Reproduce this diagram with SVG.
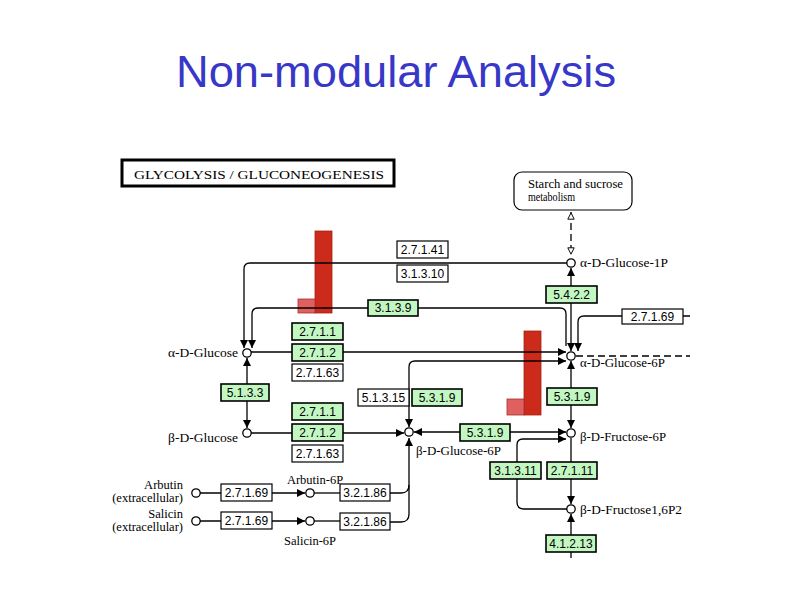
<svg xmlns="http://www.w3.org/2000/svg" width="794" height="595" viewBox="0 0 794 595">
<style>
.title{font-family:"Liberation Sans",Arial,sans-serif;font-size:44px;fill:#3838c8}
.bx{font-family:"Liberation Sans",Arial,sans-serif;font-size:12px;fill:#000;text-anchor:middle}
.lb{font-family:"Liberation Serif","Times New Roman",serif;font-size:12.5px;fill:#000}
.g{fill:#c2f7c2;stroke:#000;stroke-width:1.6}
.w{fill:#fff;stroke:#000;stroke-width:1.2}
.c{fill:#fff;stroke:#000;stroke-width:1.3}
.ln{fill:none;stroke:#000;stroke-width:1.3}
.dash{fill:none;stroke:#000;stroke-width:1.3;stroke-dasharray:7,4}
</style>
<defs>
<marker id="a" viewBox="0 0 10 10" refX="10" refY="5" markerWidth="8" markerHeight="8" markerUnits="userSpaceOnUse" orient="auto-start-reverse"><path d="M0,0 L10,5 L0,10 z" fill="#000"/></marker>
<marker id="h" viewBox="0 0 10 10" refX="10" refY="5" markerWidth="8" markerHeight="8" markerUnits="userSpaceOnUse" orient="auto-start-reverse"><path d="M1,1 L9,5 L1,9 z" fill="#fff" stroke="#000" stroke-width="1.2"/></marker>
</defs>
<rect width="794" height="595" fill="#fff"/>
<text class="title" x="176" y="87" textLength="440" lengthAdjust="spacingAndGlyphs">Non-modular Analysis</text>

<g id="header">
<rect x="122" y="160" width="272" height="26" fill="#fff" stroke="#000" stroke-width="3"/>
<text class="lb" x="134" y="179" font-size="14.5" textLength="250" lengthAdjust="spacingAndGlyphs">GLYCOLYSIS / GLUCONEOGENESIS</text>
</g>
<g id="starch">
<rect x="514" y="172" width="118" height="38" rx="8" fill="#fff" stroke="#000" stroke-width="1.2"/>
<text class="lb" x="528" y="188" font-size="10" textLength="95" lengthAdjust="spacingAndGlyphs">Starch and sucrose</text>
<text class="lb" x="528" y="201" font-size="10" textLength="47" lengthAdjust="spacingAndGlyphs">metabolism</text>
</g>

<g id="bars">
<rect x="315" y="231" width="17" height="82" fill="#cc2a1a" stroke="#a82016" stroke-width="0.8"/>
<rect x="298" y="299" width="17" height="14" fill="#e06060" stroke="#a83030" stroke-width="0.8"/>
<rect x="524" y="331" width="17" height="84" fill="#cc2a1a" stroke="#a82016" stroke-width="0.8"/>
<rect x="507" y="399" width="17" height="16" fill="#e06060" stroke="#a83030" stroke-width="0.8"/>
</g>

<g id="connectors">
<path class="dash" d="M571,212 V255" marker-start="url(#h)" marker-end="url(#h)"/>
<path class="ln" d="M567,263 H250 Q244,263 244,269 V348" marker-end="url(#a)"/>
<path class="ln" d="M566,346 V314 Q566,308 560,308 H258 Q252,308 252,314 V348" marker-end="url(#a)"/>
<path class="ln" d="M571,268 V351" marker-start="url(#a)" marker-end="url(#a)"/>
<path class="ln" d="M690,316 H584 Q578,316 578,322 V351" marker-end="url(#a)"/>
<path class="ln" d="M251,352 H566" marker-end="url(#a)"/>
<path class="ln" d="M409,427 V367 Q409,361 415,361 H566" marker-start="url(#a)" marker-end="url(#a)"/>
<path class="dash" d="M576,356 H690"/>
<path class="ln" d="M247,358 V428" marker-start="url(#a)" marker-end="url(#a)"/>
<path class="ln" d="M251,433 H404" marker-end="url(#a)"/>
<path class="ln" d="M414,432 H566" marker-start="url(#a)" marker-end="url(#a)"/>
<path class="ln" d="M571,361 V428" marker-start="url(#a)" marker-end="url(#a)"/>
<path class="ln" d="M566,439 H523 Q517,439 517,445 V502 Q517,509 524,509 H567" marker-start="url(#a)"/>
<path class="ln" d="M571,438 V504" marker-end="url(#a)"/>
<path class="ln" d="M571,558 V514" marker-end="url(#a)"/>
<path class="ln" d="M200,493 H305" marker-end="url(#a)"/>
<path class="ln" d="M314,493 H340"/>
<path class="ln" d="M390,493 H401 Q409,493 409,485"/>
<path class="ln" d="M200,521 H305" marker-end="url(#a)"/>
<path class="ln" d="M314,521 H340"/>
<path class="ln" d="M390,522 H401 Q409,522 409,514 V438" marker-end="url(#a)"/>
</g>

<g id="e2.7.1.41"><rect class="w" x="397" y="241" width="51" height="17"/><text class="bx" x="422.5" y="254">2.7.1.41</text></g>
<g id="e3.1.3.10"><rect class="w" x="397" y="265" width="51" height="17"/><text class="bx" x="422.5" y="278">3.1.3.10</text></g>
<g id="e3.1.3.9"><rect class="g" x="368" y="300" width="50" height="16"/><text class="bx" x="393" y="312">3.1.3.9</text></g>
<g id="e5.4.2.2"><rect class="g" x="546" y="286" width="51" height="17"/><text class="bx" x="571.5" y="299">5.4.2.2</text></g>
<g id="e2.7.1.69a"><rect class="w" x="622" y="309" width="61" height="15"/><text class="bx" x="652.5" y="321">2.7.1.69</text></g>
<g id="e2.7.1.1a"><rect class="g" x="292" y="323" width="51" height="17"/><text class="bx" x="317.5" y="336">2.7.1.1</text></g>
<g id="e2.7.1.2a"><rect class="g" x="292" y="344" width="51" height="17"/><text class="bx" x="317.5" y="357">2.7.1.2</text></g>
<g id="e2.7.1.63a"><rect class="w" x="292" y="364" width="51" height="17"/><text class="bx" x="317.5" y="377">2.7.1.63</text></g>
<g id="e5.1.3.3"><rect class="g" x="221" y="384" width="48" height="17"/><text class="bx" x="245" y="397">5.1.3.3</text></g>
<g id="e2.7.1.1b"><rect class="g" x="292" y="403" width="51" height="17"/><text class="bx" x="317.5" y="416">2.7.1.1</text></g>
<g id="e2.7.1.2b"><rect class="g" x="292" y="424" width="51" height="17"/><text class="bx" x="317.5" y="437">2.7.1.2</text></g>
<g id="e2.7.1.63b"><rect class="w" x="292" y="445" width="51" height="17"/><text class="bx" x="317.5" y="458">2.7.1.63</text></g>
<g id="e5.1.3.15"><rect class="w" x="358" y="389" width="51" height="17"/><text class="bx" x="383.5" y="402">5.1.3.15</text></g>
<g id="e5.3.1.9a"><rect class="g" x="412" y="389" width="50" height="17"/><text class="bx" x="437" y="402">5.3.1.9</text></g>
<g id="e5.3.1.9b"><rect class="g" x="460" y="424" width="50" height="17" stroke-width="2"/><text class="bx" x="485" y="437">5.3.1.9</text></g>
<g id="e5.3.1.9c"><rect class="g" x="547" y="388" width="50" height="17"/><text class="bx" x="572" y="401">5.3.1.9</text></g>
<g id="e3.1.3.11"><rect class="g" x="490" y="462" width="51" height="17"/><text class="bx" x="515.5" y="475">3.1.3.11</text></g>
<g id="e2.7.1.11"><rect class="g" x="547" y="462" width="50" height="17"/><text class="bx" x="572" y="475">2.7.1.11</text></g>
<g id="e4.1.2.13"><rect class="g" x="546" y="535" width="50" height="17"/><text class="bx" x="571" y="548">4.1.2.13</text></g>
<g id="e2.7.1.69b"><rect class="w" x="221" y="484" width="51" height="17"/><text class="bx" x="246.5" y="497">2.7.1.69</text></g>
<g id="e2.7.1.69c"><rect class="w" x="221" y="512" width="51" height="17"/><text class="bx" x="246.5" y="525">2.7.1.69</text></g>
<g id="e3.2.1.86a"><rect class="w" x="340" y="484" width="50" height="17"/><text class="bx" x="365" y="497">3.2.1.86</text></g>
<g id="e3.2.1.86b"><rect class="w" x="340" y="513" width="50" height="17"/><text class="bx" x="365" y="526">3.2.1.86</text></g>

<g id="c-aG1P"><circle class="c" cx="571" cy="263" r="4.2"/><text class="lb" x="580" y="267" textLength="88" lengthAdjust="spacingAndGlyphs">α-D-Glucose-1P</text></g>
<g id="c-aG"><circle class="c" cx="247" cy="353" r="4.2"/><text class="lb" x="168" y="357" textLength="70" lengthAdjust="spacingAndGlyphs">α-D-Glucose</text></g>
<g id="c-aG6P"><circle class="c" cx="571" cy="356" r="4.2"/><text class="lb" x="580" y="367" textLength="85" lengthAdjust="spacingAndGlyphs">α-D-Glucose-6P</text></g>
<g id="c-bG"><circle class="c" cx="247" cy="433" r="4.2"/><text class="lb" x="168" y="442" textLength="70" lengthAdjust="spacingAndGlyphs">β-D-Glucose</text></g>
<g id="c-bG6P"><circle class="c" cx="409" cy="432" r="4.2"/><text class="lb" x="416" y="455" textLength="85" lengthAdjust="spacingAndGlyphs">β-D-Glucose-6P</text></g>
<g id="c-bF6P"><circle class="c" cx="571" cy="433" r="4.2"/><text class="lb" x="580" y="441" textLength="86" lengthAdjust="spacingAndGlyphs">β-D-Fructose-6P</text></g>
<g id="c-bF16P2"><circle class="c" cx="571" cy="509" r="4.2"/><text class="lb" x="580" y="514" textLength="102" lengthAdjust="spacingAndGlyphs">β-D-Fructose1,6P2</text></g>
<g id="c-arbutin"><circle class="c" cx="196" cy="493" r="4.2"/><text class="lb" x="183" y="489" text-anchor="end">Arbutin</text><text class="lb" x="183" y="502" text-anchor="end">(extracellular)</text></g>
<g id="c-salicin"><circle class="c" cx="196" cy="521" r="4.2"/><text class="lb" x="183" y="518" text-anchor="end">Salicin</text><text class="lb" x="183" y="531" text-anchor="end">(extracellular)</text></g>
<g id="c-arbutin6p"><circle class="c" cx="310" cy="493" r="4.2"/><text class="lb" x="315" y="484" text-anchor="middle">Arbutin-6P</text></g>
<g id="c-salicin6p"><circle class="c" cx="310" cy="521" r="4.2"/><text class="lb" x="310" y="545" text-anchor="middle">Salicin-6P</text></g>
</svg>
